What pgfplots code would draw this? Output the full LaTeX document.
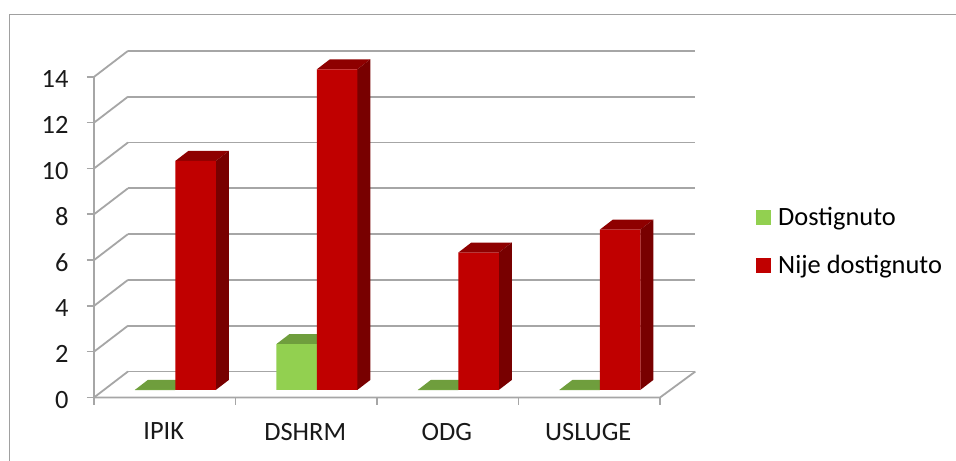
\documentclass[border=0pt]{standalone}
\usepackage{pgfplots}
\pgfplotsset{compat=1.18}
\usepackage{fontspec}
\setmainfont{Carlito}
\definecolor{gridc}{HTML}{A6A6A6}
\definecolor{frame}{HTML}{A0A0A0}
\definecolor{gfront}{HTML}{92D050}
\definecolor{gtop}{HTML}{6F9E3D}
\definecolor{rfront}{HTML}{C00000}
\definecolor{rtop}{HTML}{8E0000}
\definecolor{rside}{HTML}{780000}
% one depth face of a bar: category, left x offset (category units), value, colours
\newcommand{\barfaces}[4]{%
  \pgfmathsetmacro{\xl}{#1+#2}%
  \pgfmathsetmacro{\xr}{\xl+0.2862}%
  \pgfmathsetmacro{\xdl}{\xl+0.0919}%
  \pgfmathsetmacro{\xdr}{\xr+0.0919}%
  \pgfmathsetmacro{\yf}{#3+0.3275}%
  \pgfmathsetmacro{\yb}{\yf+0.4367}%
  \pgfmathsetmacro{\yfb}{0.3275}%
  \pgfmathsetmacro{\ybb}{0.3275+0.4367}%
  \addplot[forget plot,draw=none,fill=#4top] coordinates {(\xl,\yf)(\xr,\yf)(\xdr,\yb)(\xdl,\yb)(\xl,\yf)};
  \ifx#4r
  \addplot[forget plot,draw=none,fill=rside] coordinates {(\xr,\yfb)(\xdr,\ybb)(\xdr,\yb)(\xr,\yf)(\xr,\yfb)};
  \fi
}
\begin{document}
\begin{tikzpicture}
\path[use as bounding box] (0,0) rectangle (956bp,461bp);
\fill[white] (0,0) rectangle (956bp,461bp);
\draw[frame,line width=1.2bp] (9.5bp,0bp) -- (9.5bp,446.2bp) -- (956bp,446.2bp);
\begin{axis}[
  at={(94bp,63.5bp)},anchor=south west,
  scale only axis,width=566bp,height=320.6bp,
  xmin=-0.5,xmax=3.5,ymin=0,ymax=14,
  clip=false,
  axis line style={draw=none},
  xtick={0,1,2,3},xticklabels={IPIK,DSHRM,ODG,USLUGE},
  minor xtick={-0.5,0.5,1.5,2.5,3.5},
  ytick={0,2,...,14},
  /pgf/number format/assume math mode=true,
  tick label style={font=\fontsize{26.5}{30}\selectfont,text=black!90},
  tick style={gridc,line width=1.6bp},
  major tick length=7bp,minor tick length=7bp,
  x tick style={draw=none},
  minor x tick style={draw=gridc,line width=1.6bp},
  tick align=outside,
  xtick pos=bottom,ytick pos=left,
  xticklabel style={yshift=-15bp,xshift=-1bp},
  yticklabel style={xshift=-15bp,yshift=-2.5bp},
  legend image code/.code={\fill[#1] (0bp,-15.5bp) rectangle (15bp,-0.5bp);\path (20bp,-1bp);},
  legend style={at={(1.1697,0.5993)},anchor=north west,draw=none,fill=none,
    font=\fontsize{26.5}{30}\selectfont,row sep=24bp,inner sep=0pt},
  legend cell align=left,
]
% walls: gridlines on the back wall and on the side wall, floor edges
\pgfplotsinvokeforeach{0,2,...,14}{
  \addplot[forget plot,gridc,line width=1.8bp] coordinates {(-0.26,#1+1.135)(3.75,#1+1.135)};
  \addplot[forget plot,gridc,line width=1.8bp] coordinates {(-0.5,#1)(-0.26,#1+1.135)};
}
\addplot[forget plot,gridc,line width=1.8bp] coordinates {(-0.5,0)(-0.5,14)};
\addplot[forget plot,gridc,line width=1.8bp] coordinates {(-0.5,0)(3.5,0)(3.75,1.135)};
% depth faces
\barfaces{0}{-0.2120}{0}{g}
\barfaces{1}{-0.2120}{2}{g}
\barfaces{2}{-0.2120}{0}{g}
\barfaces{3}{-0.2120}{0}{g}
\addplot[ybar,bar width=40.5bp,bar shift=-9.75bp,yshift=7.5bp,draw=none,fill=gfront]
  coordinates {(0,0)(1,2)(2,0)(3,0)};
\addlegendentry{Dostignuto}
\barfaces{0}{0.0742}{10}{r}
\barfaces{1}{0.0742}{14}{r}
\barfaces{2}{0.0742}{6}{r}
\barfaces{3}{0.0742}{7}{r}
\addplot[ybar,bar width=40.5bp,bar shift=30.75bp,yshift=7.5bp,draw=none,fill=rfront]
  coordinates {(0,10)(1,14)(2,6)(3,7)};
\addlegendentry{Nije dostignuto}
\end{axis}
\end{tikzpicture}
\end{document}
